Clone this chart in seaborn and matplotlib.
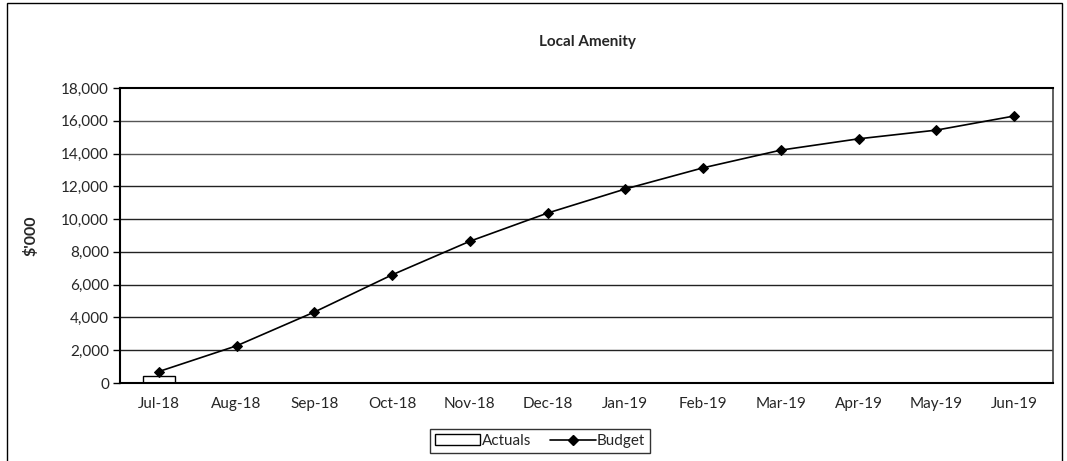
import numpy as np
import pandas as pd
import matplotlib
matplotlib.use("Agg")
import matplotlib.pyplot as plt
from matplotlib.patches import Patch, Rectangle
from matplotlib.lines import Line2D
import seaborn as sns

months = ["Jul-18", "Aug-18", "Sep-18", "Oct-18", "Nov-18", "Dec-18",
          "Jan-19", "Feb-19", "Mar-19", "Apr-19", "May-19", "Jun-19"]
actual_months = ["Jul-18"]
actuals = [430]
budget = [700, 2270, 4330, 6600, 8650, 10370, 11840, 13130, 14210, 14900, 15430, 16290]

sns.set_theme(style="white")
plt.rcParams["font.family"] = ["Lato", "DejaVu Sans"]

fig = plt.figure(figsize=(10.67, 4.61), dpi=100)
ax = fig.add_axes([120 / 1067, 1 - 383 / 461, (1053 - 120) / 1067, (383 - 88) / 461])

# outer chart frame
fig.patches.append(Rectangle((7 / 1067, -0.05), (1062 - 7) / 1067, 1.05 - 3 / 461,
                             transform=fig.transFigure, fill=False,
                             edgecolor="#000000", linewidth=1.0))

# horizontal gridlines
for v in range(2000, 18000, 2000):
    ax.axhline(v, color="#555555" if v >= 14000 else "#222222", linewidth=1.0, zorder=0)

act_df = pd.DataFrame({"month": actual_months, "value": actuals})
sns.barplot(data=act_df, x="month", y="value", order=months, ax=ax,
            color="white", edgecolor="black", linewidth=1.0, width=0.41,
            zorder=2)

sns.lineplot(x=np.arange(len(months)), y=budget, ax=ax, color="black",
             linewidth=1.2, marker="D", markersize=5.5, markeredgecolor="black",
             markerfacecolor="black", zorder=3)

ax.set_xlim(-0.5, len(months) - 0.5)
ax.set_ylim(0, 18000)
ax.set_yticks(range(0, 18001, 2000))
ax.set_yticklabels([f"{v:,}" for v in range(0, 18001, 2000)], fontsize=11)
ax.set_xticks(np.arange(len(months)))
ax.set_xticklabels(months, fontsize=11)
ax.set_xticks(np.arange(-0.5, len(months), 1.0), minor=True)
ax.tick_params(axis="x", which="major", length=0, pad=10)
ax.tick_params(axis="x", which="minor", length=6, width=1, color="black", direction="out")
ax.tick_params(axis="y", length=5, width=1, color="black", direction="out", pad=3, left=True)
ax.set_xlabel("")
ax.set_ylabel("$'000", fontsize=11.5, fontweight="bold", labelpad=16)

for side in ["left", "bottom", "top"]:
    ax.spines[side].set_color("black")
    ax.spines[side].set_linewidth(1.5)
ax.spines["right"].set_color("#444444")
ax.spines["right"].set_linewidth(1.2)

fig.text(587 / 1067, 1 - 42 / 461, "Local Amenity", ha="center", va="center",
         fontsize=11, fontweight="bold")

handles = [Patch(facecolor="white", edgecolor="black", linewidth=1.0, label="Actuals"),
           Line2D([0], [0], color="black", linewidth=1.2, marker="D", markersize=5,
                  label="Budget")]
leg = fig.legend(handles=handles, loc="center", bbox_to_anchor=(540 / 1067, 1 - 441 / 461),
                 ncol=2, frameon=True, fancybox=False, fontsize=11,
                 handlelength=3.0, handletextpad=0.1, columnspacing=1.2,
                 borderpad=0.3, edgecolor="black")
leg.get_frame().set_linewidth(1.0)

fig.savefig("out.png", dpi=100)
